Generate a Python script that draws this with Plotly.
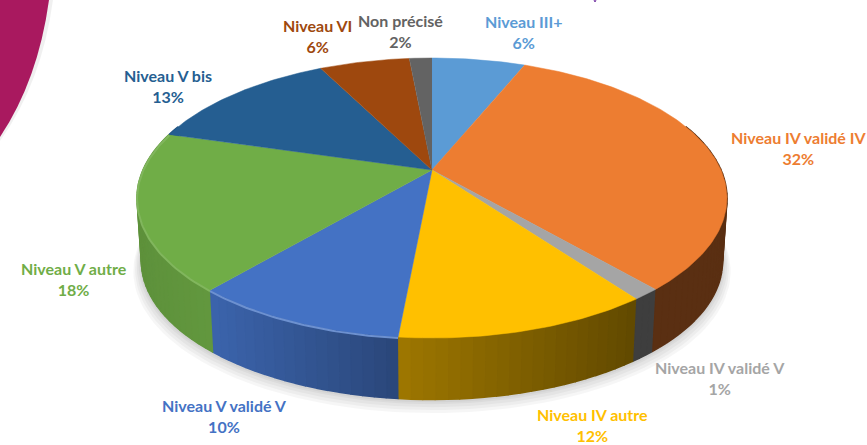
import numpy as np
import plotly.graph_objects as go

categories = ["Niveau III+", "Niveau IV validé IV", "Niveau IV validé V", "Niveau IV autre",
              "Niveau V validé V", "Niveau V autre", "Niveau V bis", "Niveau VI", "Non précisé"]
values = [6.2, 32.4, 1.3, 11.6, 9.8, 18.2, 13.0, 6.0, 1.5]
percent_labels = ["6%", "32%", "1%", "12%", "10%", "18%", "13%", "6%", "2%"]
colors = ["#5B9BD5", "#ED7D31", "#A5A5A5", "#FFC000", "#4472C4", "#70AD47", "#255E91", "#9E480E", "#636363"]
label_x = [524, 798, 720, 592, 224, 74, 168, 317, 400]
label_y = [32, 148, 378, 425, 416, 279, 86, 36, 31]
rim_tint = [0, 0, 0, 0, 0.22, 0.12, 0, 0, 0]

CX, CY, R, RY, K = 432, 170, 289, 134.4, 0.2
DEPTH, SHRINK = 64, 0.985
FONT = "Lato"


def top_pt(a):
    u, v = np.sin(a), -np.cos(a)
    d = 1 - K * v
    return CX + R * u / d, CY + RY * v / d


def low_pt(a, grow=1.0, dy=0.0):
    x, y = top_pt(a)
    return CX + (x - CX) * SHRINK * grow, CY + (y - CY) * SHRINK * grow + DEPTH + dy


def rgb(hexc, m):
    c = [int(hexc[i:i + 2], 16) for i in (1, 3, 5)]
    return "rgb(%d,%d,%d)" % tuple(min(255, int(x * m)) for x in c)


def tint(hexc, t):
    c = [int(hexc[i:i + 2], 16) for i in (1, 3, 5)]
    return "rgb(%d,%d,%d)" % tuple(int(x + (255 - x) * t) for x in c)


def side_light(x):
    return float(np.interp(x, [137, 210, 400, 640, 727], [0.84, 0.88, 0.62, 0.38, 0.38]))


fracs = np.cumsum([0] + values) / sum(values) * 2 * np.pi
fig = go.Figure()


def poly(xs, ys, fill, line=None, lw=0):
    fig.add_trace(go.Scatter(x=list(xs), y=list(ys), mode="lines", fill="toself", fillcolor=fill,
                             line=dict(color=line or fill, width=lw), hoverinfo="skip", showlegend=False))


# soft shadow below the disc
ring = np.linspace(0, 2 * np.pi, 181)
for g, dy in [(1.028, 9), (1.022, 7), (1.016, 5), (1.010, 3), (1.005, 2)]:
    px, py = low_pt(ring, g, dy)
    poly(px, py, "rgba(0,0,0,0.035)")

# side wall strips
for i, col in enumerate(colors):
    a0, a1 = fracs[i], fracs[i + 1]
    n = max(2, int((a1 - a0) / np.radians(2)) + 1)
    edges = np.linspace(a0, a1, n + 1)
    for s, e in zip(edges[:-1], edges[1:]):
        if -np.cos((s + e) / 2) < -0.35:
            continue
        t = np.linspace(s, e, 3)
        tx, ty = top_pt(t)
        lx, ly = low_pt(t[::-1])
        poly(np.r_[tx, lx], np.r_[ty, ly], rgb(col, side_light(tx.mean())), lw=1.6)

# top faces
for i, col in enumerate(colors):
    t = np.linspace(fracs[i], fracs[i + 1], max(4, int(values[i] * 4)))
    tx, ty = top_pt(t)
    poly(np.r_[CX, tx], np.r_[CY, ty], col, lw=0.5)

# bevel highlight along the front edge
for i, col in enumerate(colors):
    if rim_tint[i] == 0:
        continue
    t = np.linspace(fracs[i], fracs[i + 1], 60)
    tx, ty = top_pt(t)
    fig.add_trace(go.Scatter(x=tx, y=ty + 1, mode="lines", line=dict(color=tint(col, rim_tint[i]), width=2),
                             hoverinfo="skip", showlegend=False))

annotations = [
    dict(x=label_x[i], y=label_y[i], text=f"{categories[i]}<br>{percent_labels[i]}", showarrow=False,
         xanchor="center", yanchor="middle", align="center",
         font=dict(family=FONT, size=16, color=colors[i], weight="bold"))
    for i in range(len(categories))
]

shapes = [
    dict(type="path", path="M 0 141 Q 42 82 53 0 L 0 0 Z", fillcolor="rgba(0,0,0,0.06)", line_width=0, layer="below"),
    dict(type="path", path="M 0 137 Q 38 80 49 0 L 0 0 Z", fillcolor="#A9195F", line_width=0, layer="below"),
    dict(type="path", path="M 594 0 L 595 2 L 596 0", line=dict(color="#7030A0", width=1)),
]

fig.update_layout(
    width=867, height=445, margin=dict(l=0, r=0, t=0, b=0),
    paper_bgcolor="white", plot_bgcolor="white", showlegend=False,
    xaxis=dict(range=[0, 867], visible=False, fixedrange=True),
    yaxis=dict(range=[445, 0], visible=False, fixedrange=True),
    annotations=annotations, shapes=shapes,
)
fig.write_html("out.html", config=dict(displayModeBar=False),
               post_script="document.body.style.margin='0';document.documentElement.style.overflow='hidden';")
